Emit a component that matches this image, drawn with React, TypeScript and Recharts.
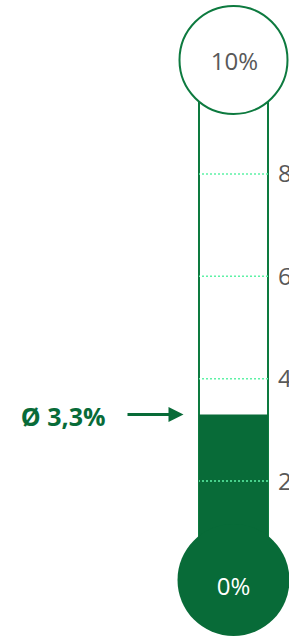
import { Bar, BarChart, ReferenceDot, ReferenceLine, XAxis, YAxis } from "recharts";

const categories = ["Ø"];
const values = [3.3];
const axisTicks = [2, 4, 6, 8];
const domainMin = 0;
const domainMax = 10;

const GREEN = "#086b38";
const LINE_GREEN = "#0d7a3f";
const MINT = "#5ef2a6";
const GREY = "#595959";
const FONT = "'Open Sans', sans-serif";

const data = categories.map((name, i) => ({ name, value: values[i] }));

function TopBulb(props: any) {
  const { cx, cy } = props;
  const y = cy - 11.5;
  return (
    <g>
      <circle cx={cx} cy={y} r={54} fill="#fff" stroke={LINE_GREEN} strokeWidth={2} />
      <text x={cx + 1} y={y} textAnchor="middle" dominantBaseline="central" fill={GREY} fontSize={24} fontFamily={FONT}>
        {domainMax}%
      </text>
    </g>
  );
}

function BottomBulb(props: any) {
  const { cx, cy } = props;
  const y = cy - 3.5;
  return (
    <g>
      <circle cx={cx} cy={y} r={56} fill={GREEN} />
      <text x={cx} y={y + 5} textAnchor="middle" dominantBaseline="central" fill="#fff" fontSize={24} fontFamily={FONT}>
        {domainMin}%
      </text>
    </g>
  );
}

function AvgMarker(props: any) {
  const { cx, cy } = props;
  const tip = cx - 50;
  return (
    <g>
      <line x1={cx - 106} y1={cy} x2={tip - 12} y2={cy} stroke={GREEN} strokeWidth={3} />
      <polygon points={`${tip},${cy} ${tip - 15},${cy - 7.5} ${tip - 15},${cy + 7.5}`} fill={GREEN} />
      <text x={cx - 128} y={cy + 1} textAnchor="end" dominantBaseline="central" fill={GREEN} fontSize={25} fontWeight={700} fontFamily={FONT}>
        {`Ø ${values[0].toString().replace(".", ",")}%`}
      </text>
    </g>
  );
}

export default function App() {
  return (
    <div style={{ position: "absolute", left: 0, top: 0, width: 289, height: 636 }}>
      <BarChart
        width={289}
        height={636}
        data={data}
        margin={{ top: 71.5, right: 0, bottom: 52.5, left: 199 }}
        barCategoryGap="0%"
        barGap={0}
      >
        <XAxis dataKey="name" hide padding={{ left: 0, right: 0 }} />
        <YAxis
          orientation="right"
          width={21}
          domain={[domainMin, domainMax]}
          ticks={axisTicks}
          axisLine={false}
          tickLine={false}
          tickSize={0}
          tickMargin={10}
          tick={{ fill: GREY, fontSize: 24, fontFamily: FONT, textAnchor: "start" }}
        />
        <Bar
          dataKey="value"
          fill={GREEN}
          background={{ fill: "#fff", stroke: LINE_GREEN, strokeWidth: 2 }}
          isAnimationActive={false}
        />
        {axisTicks.map((t) => (
          <ReferenceLine key={t} y={t} stroke={MINT} strokeWidth={1.5} strokeDasharray="2 2" />
        ))}
        <ReferenceDot x={categories[0]} y={domainMax} r={54} shape={TopBulb} />
        <ReferenceDot x={categories[0]} y={domainMin} r={56} shape={BottomBulb} />
        <ReferenceDot x={categories[0]} y={values[0]} r={1} shape={AvgMarker} />
      </BarChart>
    </div>
  );
}
